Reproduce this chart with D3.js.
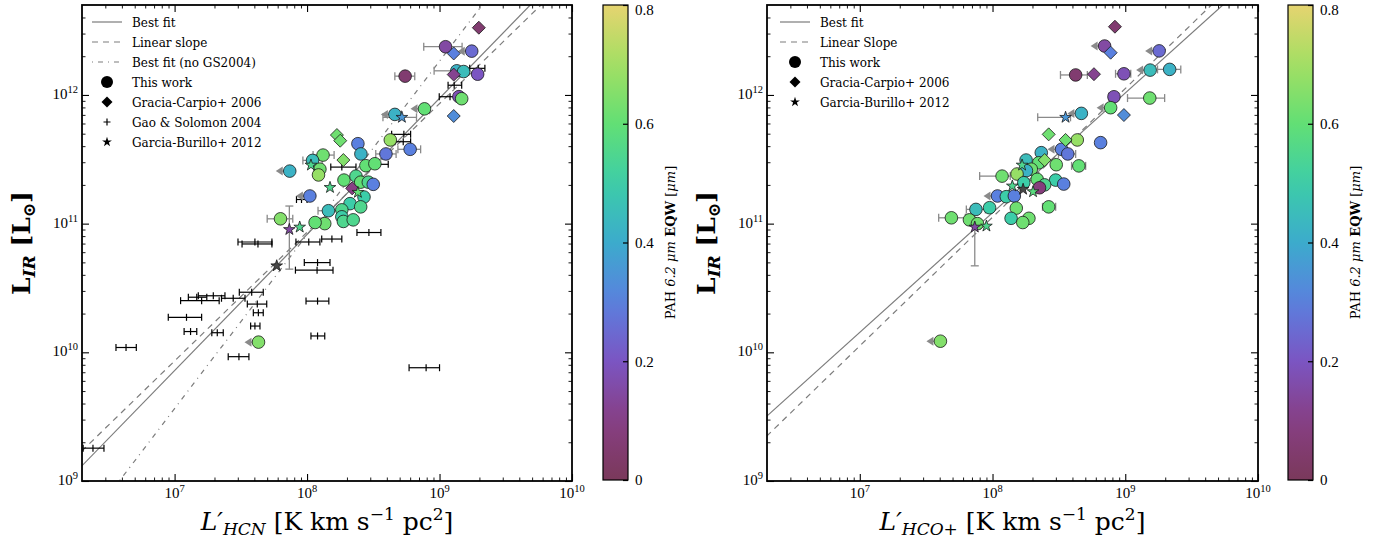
<!DOCTYPE html>
<html><head><meta charset="utf-8">
<script src="https://cdn.jsdelivr.net/npm/d3@7"></script>
<style>
body{margin:0;background:#fff;}
svg text{font-family:"DejaVu Serif","Liberation Serif",serif;fill:#000;}
svg text.num{font-family:"Liberation Serif","DejaVu Serif",serif;}
</style></head><body>
<svg id="chart" width="1382" height="542"></svg>
<script>
// ---------------- data ----------------
// l = line luminosity L' [K km s^-1 pc^2], ir = L_IR [Lsun], eqw = PAH 6.2um EQW [um]
// lo/hi = error range on l, ul = upper limit on l, irLo/irHi = error range on L_IR

const hcnWork = [
  {l:1.11e9, ir:2.37e12, eqw:0.15, lo:7.6e8, hi:1.48e9},
  {l:1.75e9, ir:2.19e12, eqw:0.25, ul:1},
  {l:1.35e9, ir:1.54e12, eqw:0.42, lo:9.1e8, hi:1.48e9},
  {l:1.52e9, ir:1.52e12, eqw:0.45},
  {l:1.94e9, ir:1.45e12, eqw:0.20},
  {l:5.5e8,  ir:1.40e12, eqw:0.05, lo:4.6e8, hi:6.5e8},
  {l:1.40e9, ir:9.7e11,  eqw:0.18},
  {l:1.47e9, ir:9.35e11, eqw:0.62},
  {l:7.7e8,  ir:7.8e11,  eqw:0.60, ul:1},
  {l:4.6e8,  ir:7.06e11, eqw:0.42, ul:1},
  {l:4.25e8, ir:4.47e11, eqw:0.68},
  {l:6.0e8,  ir:3.78e11, eqw:0.30, lo:4.85e8, hi:7.2e8},
  {l:3.94e8, ir:3.48e11, eqw:0.28, lo:3.3e8, hi:4.7e8},
  {l:2.42e8, ir:4.18e11, eqw:0.30},
  {l:2.55e8, ir:3.48e11, eqw:0.42},
  {l:1.32e8, ir:3.41e11, eqw:0.62, lo:1.11e8, hi:1.6e8},
  {l:1.10e8, ir:3.10e11, eqw:0.45, lo:9.3e7, hi:1.3e8},
  {l:1.25e8, ir:2.65e11, eqw:0.62},
  {l:1.22e8, ir:2.39e11, eqw:0.68},
  {l:7.4e7,  ir:2.56e11, eqw:0.42, ul:1},
  {l:2.78e8, ir:2.82e11, eqw:0.60},
  {l:3.25e8, ir:2.92e11, eqw:0.60},
  {l:1.90e8, ir:2.18e11, eqw:0.60},
  {l:2.34e8, ir:2.34e11, eqw:0.55},
  {l:2.54e8, ir:2.10e11, eqw:0.60},
  {l:2.90e8, ir:2.10e11, eqw:0.55},
  {l:3.16e8, ir:2.02e11, eqw:0.30},
  {l:2.69e8, ir:1.61e11, eqw:0.50},
  {l:2.11e8, ir:1.43e11, eqw:0.50},
  {l:2.54e8, ir:1.35e11, eqw:0.55},
  {l:1.05e8, ir:1.64e11, eqw:0.30, ul:1},
  {l:1.45e8, ir:1.26e11, eqw:0.45, lo:1.21e8, hi:1.74e8},
  {l:1.83e8, ir:1.28e11, eqw:0.55},
  {l:1.83e8, ir:1.13e11, eqw:0.50},
  {l:1.88e8, ir:1.04e11, eqw:0.55},
  {l:2.23e8, ir:1.07e11, eqw:0.55},
  {l:1.36e8, ir:1.00e11, eqw:0.62},
  {l:1.15e8, ir:1.02e11, eqw:0.60},
  {l:6.3e7,  ir:1.09e11, eqw:0.65, lo:5.0e7, hi:7.8e7},
  {l:4.3e7,  ir:1.20e10, eqw:0.65, ul:1}
];

const hcnGracia = [
  {l:1.98e9, ir:3.33e12, eqw:0.05},
  {l:1.28e9, ir:2.10e12, eqw:0.30},
  {l:1.28e9, ir:1.44e12, eqw:0.12},
  {l:1.28e9, ir:6.86e11, eqw:0.33},
  {l:1.68e8, ir:4.88e11, eqw:0.62},
  {l:1.78e8, ir:4.41e11, eqw:0.62},
  {l:1.88e8, ir:3.12e11, eqw:0.65},
  {l:2.19e8, ir:1.88e11, eqw:0.10}
];

const hcnGarcia = [
  {l:5.2e8,  ir:6.7e11,  eqw:0.35, lo:3.74e8, hi:6.7e8},
  {l:1.07e8, ir:2.85e11, eqw:0.55},
  {l:1.49e8, ir:1.91e11, eqw:0.55},
  {l:2.42e8, ir:1.75e11, eqw:0.60},
  {l:7.35e7, ir:9.0e10,  eqw:0.15, irLo:4.43e10, irHi:1.37e11},
  {l:8.8e7,  ir:9.4e10,  eqw:0.55},
  {l:5.9e7,  ir:4.7e10,  eqw:null}
];

// Gao & Solomon 2004: [L'_HCN, L_IR, L' low, L' high]
const hcnGS = [
  [2.42e6,1.80e9,2.04e6,2.93e6],
  [4.30e6,1.09e10,3.61e6,5.14e6],
  [4.04e7,7.20e10,3.01e7,5.43e7],
  [4.26e7,6.95e10,3.23e7,5.43e7],
  [1.96e7,2.75e10,1.51e7,2.40e7],
  [2.77e7,2.63e10,2.26e7,3.40e7],
  [3.82e7,2.93e10,3.08e7,4.67e7],
  [1.47e7,2.68e10,1.27e7,1.75e7],
  [1.60e7,2.52e10,1.11e7,2.17e7],
  [4.21e7,2.37e10,3.54e7,4.96e7],
  [4.29e7,2.03e10,3.93e7,4.67e7],
  [4.04e7,1.60e10,3.75e7,4.41e7],
  [1.23e7,1.87e10,8.96e6,1.60e7],
  [1.32e7,1.45e10,1.18e7,1.47e7],
  [2.10e7,1.42e10,1.91e7,2.33e7],
  [3.06e7,9.25e9,2.54e7,3.64e7],
  [9.08e7,1.54e11,8.32e7,1.00e8],
  [1.83e8,2.75e11,1.51e8,2.34e8],
  [2.93e8,8.53e10,2.38e8,3.61e8],
  [1.03e8,7.20e10,8.24e7,1.25e8],
  [1.54e8,7.59e10,1.29e8,1.83e8],
  [1.20e8,4.98e10,9.53e7,1.49e8],
  [1.19e8,4.35e10,8.17e7,1.57e8],
  [1.20e8,2.50e10,9.82e7,1.46e8],
  [1.20e8,1.34e10,1.07e8,1.36e8],
  [7.92e8,7.59e9,5.89e8,1.00e9],
  [1.96e9,1.61e12,1.69e9,2.20e9],
  [1.29e9,1.19e12,1.16e9,1.47e9],
  [1.20e9,9.69e11,9.95e8,1.31e9],
  [5.38e8,4.94e11,4.35e8,6.05e8],
  [5.32e8,4.33e11,4.60e8,6.05e8],
  [3.35e8,2.89e11,2.82e8,4.10e8]
];

const hcoWork = [
  {l:6.99e8, ir:2.40e12, eqw:0.15, ul:1},
  {l:1.80e9, ir:2.20e12, eqw:0.25, ul:1},
  {l:4.23e8, ir:1.43e12, eqw:0.05, lo:3.25e8, hi:5.18e8},
  {l:9.77e8, ir:1.46e12, eqw:0.18, lo:8.45e8, hi:1.10e9},
  {l:1.54e9, ir:1.56e12, eqw:0.45, ul:1},
  {l:2.16e9, ir:1.58e12, eqw:0.42, lo:1.75e9, hi:2.62e9},
  {l:8.22e8, ir:9.68e11, eqw:0.18, lo:7.5e8, hi:8.9e8},
  {l:1.53e9, ir:9.46e11, eqw:0.62, lo:1.04e9, hi:1.98e9},
  {l:7.76e8, ir:7.96e11, eqw:0.60, ul:1},
  {l:4.67e8, ir:7.19e11, eqw:0.42, ul:1},
  {l:4.35e8, ir:4.47e11, eqw:0.68},
  {l:6.52e8, ir:4.26e11, eqw:0.30},
  {l:3.31e8, ir:3.78e11, eqw:0.30, ul:1},
  {l:3.69e8, ir:3.48e11, eqw:0.28, lo:3.14e8, hi:4.23e8},
  {l:2.33e8, ir:3.56e11, eqw:0.42},
  {l:1.79e8, ir:3.12e11, eqw:0.45},
  {l:2.23e8, ir:2.97e11, eqw:0.60},
  {l:3.02e8, ir:2.87e11, eqw:0.62},
  {l:4.47e8, ir:2.81e11, eqw:0.60, lo:3.94e8, hi:5.03e8},
  {l:1.96e8, ir:2.65e11, eqw:0.62},
  {l:1.80e8, ir:2.58e11, eqw:0.42},
  {l:1.53e8, ir:2.43e11, eqw:0.68},
  {l:1.18e8, ir:2.34e11, eqw:0.62, lo:8.0e7, hi:1.36e8},
  {l:2.17e8, ir:2.21e11, eqw:0.60},
  {l:1.72e8, ir:2.08e11, eqw:0.50},
  {l:2.99e8, ir:2.18e11, eqw:0.50},
  {l:3.44e8, ir:2.03e11, eqw:0.30},
  {l:2.47e8, ir:2.00e11, eqw:0.55},
  {l:2.26e8, ir:1.90e11, eqw:0.08},
  {l:1.09e8, ir:1.64e11, eqw:0.30, ul:1},
  {l:1.27e8, ir:1.62e11, eqw:0.50},
  {l:1.46e8, ir:1.64e11, eqw:0.30},
  {l:2.65e8, ir:1.35e11, eqw:0.60, lo:2.38e8, hi:2.99e8},
  {l:7.5e7,  ir:1.29e11, eqw:0.45, lo:6.35e7, hi:8.83e7},
  {l:9.5e7,  ir:1.33e11, eqw:0.50},
  {l:1.51e8, ir:1.32e11, eqw:0.62},
  {l:4.9e7,  ir:1.11e11, eqw:0.62, lo:3.93e7, hi:6.24e7},
  {l:6.7e7,  ir:1.07e11, eqw:0.62},
  {l:1.38e8, ir:1.10e11, eqw:0.50},
  {l:1.88e8, ir:1.10e11, eqw:0.62},
  {l:1.69e8, ir:1.02e11, eqw:0.62},
  {l:7.7e7,  ir:1.00e11, eqw:0.62},
  {l:4.05e7, ir:1.22e10, eqw:0.65, ul:1}
];

const hcoGracia = [
  {l:8.36e8, ir:3.39e12, eqw:0.05},
  {l:7.76e8, ir:2.13e12, eqw:0.30},
  {l:5.81e8, ir:1.45e12, eqw:0.12},
  {l:9.77e8, ir:6.98e11, eqw:0.33},
  {l:2.65e8, ir:4.94e11, eqw:0.62},
  {l:3.55e8, ir:4.47e11, eqw:0.62},
  {l:2.47e8, ir:3.12e11, eqw:0.65}
];

const hcoGarcia = [
  {l:3.55e8, ir:6.7e11,  eqw:0.35, lo:2.19e8, hi:3.87e8},
  {l:1.67e8, ir:2.85e11, eqw:0.55},
  {l:1.41e8, ir:1.96e11, eqw:0.55},
  {l:2.02e8, ir:1.77e11, eqw:0.58},
  {l:1.70e8, ir:1.85e11, eqw:null},
  {l:7.35e7, ir:9.4e10,  eqw:0.15, irLo:4.7e10, irHi:1.37e11},
  {l:9.0e7,  ir:9.57e10, eqw:0.55}
];

// power-law fits: log L_IR = slope * log L' + intercept
const hcnFits = [
  {name:"Best fit", slope:1.058, intercept:2.452, dash:null},
  {name:"Linear slope", slope:1.0, intercept:2.933, dash:"6,5"},
  {name:"Best fit (no GS2004)", slope:1.35, intercept:0.113, dash:"1,5,5,5"}
];
const hcoFits = [
  {name:"Best fit", slope:0.93, intercept:3.645, dash:null},
  {name:"Linear Slope", slope:1.0, intercept:3.05, dash:"6,5"}
];

const xMajorTicks = [1e7, 1e8, 1e9, 1e10];
const yMajorTicks = [1e9, 1e10, 1e11, 1e12];
const cbarTicks = [0, 0.2, 0.4, 0.6, 0.8];
const xDomain = [2e6, 1e10];
const yDomain = [1e9, 5e12];

// colormap for the PAH equivalent width
const cmapStops = [0, 0.1, 0.2, 0.3, 0.4, 0.5, 0.6, 0.7, 0.8];
const cmapColors = ["#7a395b","#883f84","#7b55c2","#5a80df","#3cabcc","#3ccda8","#62df75","#a3df62","#e6d470"];

// ---------------- drawing ----------------
const svg = d3.select("#chart");
const defs = svg.append("defs");
const yTop = 5, yBottom = 481;
const cmap = d3.scaleLinear().domain(cmapStops).range(cmapColors).interpolate(d3.interpolateRgb).clamp(true);
const colorOf = v => v == null ? "#474747" : cmap(v);
const errGray = "#8a8a8a";
const lineGray = "#7c7c7c";

function minorTicks(lo, hi) {
  const out = [];
  for (let e = Math.floor(Math.log10(lo)); e <= Math.ceil(Math.log10(hi)); e++) {
    for (let k = 2; k <= 9; k++) {
      const v = k * Math.pow(10, e);
      if (v > lo * 1.0001 && v < hi * 0.9999) out.push(v);
    }
  }
  return out;
}

function powerLabel(sel, exp) {
  sel.attr("class", "num");
  sel.append("tspan").attr("font-size", 15).text("10");
  sel.append("tspan").attr("font-size", 10.5).attr("dy", -6).text(exp);
}

function diamondPath(r) { return `M0,${-r}L${r},0L0,${r}L${-r},0Z`; }

function drawPanel(cfg) {
  const {id, x0, x1, work, gracia, garcia, gs, fits, legend, xSub, cbX} = cfg;
  const x = d3.scaleLog().domain(xDomain).range([x0, x1]);
  const y = d3.scaleLog().domain(yDomain).range([yBottom, yTop]);
  const g = svg.append("g");

  defs.append("clipPath").attr("id", "clip-" + id)
    .append("rect").attr("x", x0).attr("y", yTop).attr("width", x1 - x0).attr("height", yBottom - yTop);
  const plot = g.append("g").attr("clip-path", `url(#clip-${id})`);

  // fit lines
  const lineGen = d3.line().x(d => x(d[0])).y(d => y(d[1]));
  fits.forEach(f => {
    const pts = [xDomain[0] * 0.5, xDomain[1] * 2].map(v => [v, Math.pow(10, f.intercept + f.slope * Math.log10(v))]);
    plot.append("path").attr("d", lineGen(pts))
      .attr("fill", "none").attr("stroke", lineGray).attr("stroke-width", 1.2)
      .attr("stroke-dasharray", f.dash);
  });

  // Gao & Solomon points: black horizontal error bars with a plus marker
  if (gs) {
    const gg = plot.append("g").attr("stroke", "#000").attr("stroke-width", 1.2);
    gs.forEach(d => {
      const cy = y(d[1]), cx = x(d[0]), xl = x(d[2]), xh = x(d[3]);
      gg.append("line").attr("x1", xl).attr("x2", xh).attr("y1", cy).attr("y2", cy);
      gg.append("line").attr("x1", xl).attr("x2", xl).attr("y1", cy - 3.5).attr("y2", cy + 3.5);
      gg.append("line").attr("x1", xh).attr("x2", xh).attr("y1", cy - 3.5).attr("y2", cy + 3.5);
      gg.append("line").attr("x1", cx).attr("x2", cx).attr("y1", cy - 3.5).attr("y2", cy + 3.5);
    });
  }

  // gray error bars and upper-limit arrows
  const eg = plot.append("g").attr("stroke", errGray).attr("stroke-width", 1.3);
  [...work, ...garcia].forEach(d => {
    const cx = x(d.l), cy = y(d.ir);
    if (d.lo) {
      const xl = x(d.lo), xh = x(d.hi);
      eg.append("line").attr("x1", xl).attr("x2", xh).attr("y1", cy).attr("y2", cy);
      eg.append("line").attr("x1", xl).attr("x2", xl).attr("y1", cy - 4).attr("y2", cy + 4);
      eg.append("line").attr("x1", xh).attr("x2", xh).attr("y1", cy - 4).attr("y2", cy + 4);
    }
    if (d.irLo) {
      const yl = y(d.irLo), yh = y(d.irHi);
      eg.append("line").attr("x1", cx).attr("x2", cx).attr("y1", yl).attr("y2", yh);
      eg.append("line").attr("x1", cx - 4).attr("x2", cx + 4).attr("y1", yl).attr("y2", yl);
      eg.append("line").attr("x1", cx - 4).attr("x2", cx + 4).attr("y1", yh).attr("y2", yh);
    }
    if (d.ul) {
      eg.append("line").attr("x1", cx).attr("x2", cx - 8).attr("y1", cy).attr("y2", cy);
      eg.append("path").attr("stroke", "none").attr("fill", errGray)
        .attr("d", `M${cx - 14},${cy}L${cx - 7},${cy - 4.5}L${cx - 7},${cy + 4.5}Z`);
    }
  });

  // this work: circles coloured by EQW
  plot.append("g").selectAll("circle").data(work).join("circle")
    .attr("cx", d => x(d.l)).attr("cy", d => y(d.ir)).attr("r", 6.3)
    .attr("fill", d => colorOf(d.eqw)).attr("stroke", "#1a1a1a").attr("stroke-width", 0.8);

  // Gracia-Carpio 2006: diamonds
  plot.append("g").selectAll("path").data(gracia).join("path")
    .attr("transform", d => `translate(${x(d.l)},${y(d.ir)})`)
    .attr("d", diamondPath(6.5))
    .attr("fill", d => colorOf(d.eqw)).attr("stroke", "#1a1a1a").attr("stroke-width", 0.8);

  // Garcia-Burillo 2012: stars
  const star = d3.symbol().type(d3.symbolStar).size(42);
  plot.append("g").selectAll("path").data(garcia).join("path")
    .attr("transform", d => `translate(${x(d.l)},${y(d.ir)})`)
    .attr("d", star)
    .attr("fill", d => colorOf(d.eqw)).attr("stroke", "#1a1a1a").attr("stroke-width", 0.8);

  // axes with inward ticks on all four sides
  const xMinor = minorTicks(xDomain[0], xDomain[1]);
  const yMinor = minorTicks(yDomain[0], yDomain[1]);
  const axes = [
    [d3.axisBottom, x, `translate(0,${yBottom})`, xMajorTicks, xMinor],
    [d3.axisTop, x, `translate(0,${yTop})`, xMajorTicks, xMinor],
    [d3.axisLeft, y, `translate(${x0},0)`, yMajorTicks, yMinor],
    [d3.axisRight, y, `translate(${x1},0)`, yMajorTicks, yMinor]
  ];
  axes.forEach(([axisFn, sc, tr, maj, mnr]) => {
    g.append("g").attr("transform", tr)
      .call(axisFn(sc).tickValues(maj).tickSize(-7).tickSizeOuter(0).tickFormat(""))
      .call(s => { s.select(".domain").remove(); s.selectAll("line").attr("stroke-width", 1.1); });
    g.append("g").attr("transform", tr)
      .call(axisFn(sc).tickValues(mnr).tickSize(-3.5).tickSizeOuter(0).tickFormat(""))
      .call(s => { s.select(".domain").remove(); s.selectAll("line").attr("stroke-width", 0.9); });
  });
  g.append("rect").attr("x", x0).attr("y", yTop).attr("width", x1 - x0).attr("height", yBottom - yTop)
    .attr("fill", "none").attr("stroke", "#000").attr("stroke-width", 1.8);

  // tick labels
  xMajorTicks.forEach(v => {
    const t = g.append("text").attr("x", x(v)).attr("y", yBottom + 17).attr("text-anchor", "middle");
    powerLabel(t, Math.round(Math.log10(v)));
  });
  yMajorTicks.forEach(v => {
    const t = g.append("text").attr("x", x0 - 4).attr("y", y(v) + 4).attr("text-anchor", "end");
    powerLabel(t, Math.round(Math.log10(v)));
  });

  // x title
  const xt = g.append("text").attr("x", (x0 + x1) / 2).attr("y", 530).attr("text-anchor", "middle").attr("font-size", 25);
  xt.append("tspan").attr("font-style", "italic").text("L′");
  xt.append("tspan").attr("font-style", "italic").attr("font-size", 17).attr("dy", 5).text(xSub);
  xt.append("tspan").attr("dy", -5).text(" [K km s");
  xt.append("tspan").attr("font-size", 17).attr("dy", -10).text("−1");
  xt.append("tspan").attr("dy", 10).text(" pc");
  xt.append("tspan").attr("font-size", 17).attr("dy", -10).text("2");
  xt.append("tspan").attr("dy", 10).text("]");

  // y title
  const yt = g.append("text").attr("transform", `translate(${x0 - 52},${(yTop + yBottom) / 2}) rotate(-90)`)
    .attr("text-anchor", "middle").attr("font-size", 25).attr("font-weight", "bold");
  yt.append("tspan").text("L");
  yt.append("tspan").attr("font-style", "italic").attr("font-size", 17).attr("dy", 5).text("IR");
  yt.append("tspan").attr("dy", -5).text(" [L");
  yt.append("tspan").attr("font-size", 17).attr("dy", 5).text("⊙");
  yt.append("tspan").attr("dy", -5).text("]");

  // legend
  const lg = g.append("g");
  legend.rows.forEach((row, i) => {
    const cy = legend.y0 + i * legend.dy;
    const lx0 = legend.x, lx1 = legend.x + 30, mx = legend.x + 15;
    if (row.kind === "line") {
      lg.append("line").attr("x1", lx0).attr("x2", lx1).attr("y1", cy).attr("y2", cy)
        .attr("stroke", lineGray).attr("stroke-width", 1.2).attr("stroke-dasharray", row.dash);
    } else if (row.kind === "circle") {
      lg.append("circle").attr("cx", mx).attr("cy", cy).attr("r", 6).attr("fill", "#000");
    } else if (row.kind === "diamond") {
      lg.append("path").attr("transform", `translate(${mx},${cy})`).attr("d", diamondPath(5.5)).attr("fill", "#000");
    } else if (row.kind === "plus") {
      lg.append("path").attr("d", `M${mx - 3.5},${cy}H${mx + 3.5}M${mx},${cy - 3.5}V${cy + 3.5}`)
        .attr("stroke", "#000").attr("stroke-width", 1.2);
    } else if (row.kind === "star") {
      lg.append("path").attr("transform", `translate(${mx},${cy})`).attr("d", d3.symbol().type(d3.symbolStar).size(30)).attr("fill", "#000");
    }
    lg.append("text").attr("x", legend.x + 40).attr("y", cy + 4.5).attr("font-size", 12).text(row.label);
  });

  // colorbar
  const gid = "grad-" + id;
  const grad = defs.append("linearGradient").attr("id", gid).attr("x1", 0).attr("y1", 1).attr("x2", 0).attr("y2", 0);
  d3.range(0, 1.0001, 0.05).forEach(t => {
    grad.append("stop").attr("offset", t).attr("stop-color", cmap(t * 0.8));
  });
  const cbW = 25, cbTop = 5, cbBot = 480;
  g.append("rect").attr("x", cbX).attr("y", cbTop).attr("width", cbW).attr("height", cbBot - cbTop)
    .attr("fill", `url(#${gid})`).attr("stroke", "#000").attr("stroke-width", 1.2);
  const cy = d3.scaleLinear().domain([0, 0.8]).range([cbBot, cbTop]);
  g.append("g").attr("transform", `translate(${cbX + cbW},0)`)
    .call(d3.axisRight(cy).tickValues(cbarTicks).tickSize(-5).tickPadding(7).tickFormat(d => d === 0 ? "0" : d3.format(".1f")(d)))
    .call(s => {
      s.select(".domain").remove();
      s.selectAll("line").attr("stroke-width", 1.2);
      s.selectAll("text").attr("class", "num").attr("font-size", 15).attr("font-family", null).attr("fill", "#000")
        .attr("dy", d => d === 0.8 ? "0.62em" : "0.32em");
    });
  const ct = g.append("text").attr("transform", `translate(${cbX + 72},${(cbTop + cbBot) / 2}) rotate(-90)`)
    .attr("text-anchor", "middle").attr("font-size", 13);
  ct.append("tspan").text("PAH ");
  ct.append("tspan").attr("font-style", "italic").text("6.2 μm");
  ct.append("tspan").attr("font-weight", "bold").text(" EQW");
  ct.append("tspan").text(" [");
  ct.append("tspan").attr("font-style", "italic").text("μm");
  ct.append("tspan").text("]");
}

drawPanel({
  id: "hcn", x0: 82, x1: 572, cbX: 603,
  work: hcnWork, gracia: hcnGracia, garcia: hcnGarcia, gs: hcnGS, fits: hcnFits, xSub: "HCN",
  legend: {x: 92, y0: 22, dy: 20, rows: [
    {kind: "line", dash: hcnFits[0].dash, label: hcnFits[0].name},
    {kind: "line", dash: hcnFits[1].dash, label: hcnFits[1].name},
    {kind: "line", dash: hcnFits[2].dash, label: hcnFits[2].name},
    {kind: "circle", label: "This work"},
    {kind: "diamond", label: "Gracia-Carpio+ 2006"},
    {kind: "plus", label: "Gao & Solomon 2004"},
    {kind: "star", label: "Garcia-Burillo+ 2012"}
  ]}
});

drawPanel({
  id: "hco", x0: 767, x1: 1258, cbX: 1288,
  work: hcoWork, gracia: hcoGracia, garcia: hcoGarcia, gs: null, fits: hcoFits, xSub: "HCO+",
  legend: {x: 780, y0: 22, dy: 20, rows: [
    {kind: "line", dash: hcoFits[0].dash, label: hcoFits[0].name},
    {kind: "line", dash: hcoFits[1].dash, label: hcoFits[1].name},
    {kind: "circle", label: "This work"},
    {kind: "diamond", label: "Gracia-Carpio+ 2006"},
    {kind: "star", label: "Garcia-Burillo+ 2012"}
  ]}
});
</script>
</body></html>
